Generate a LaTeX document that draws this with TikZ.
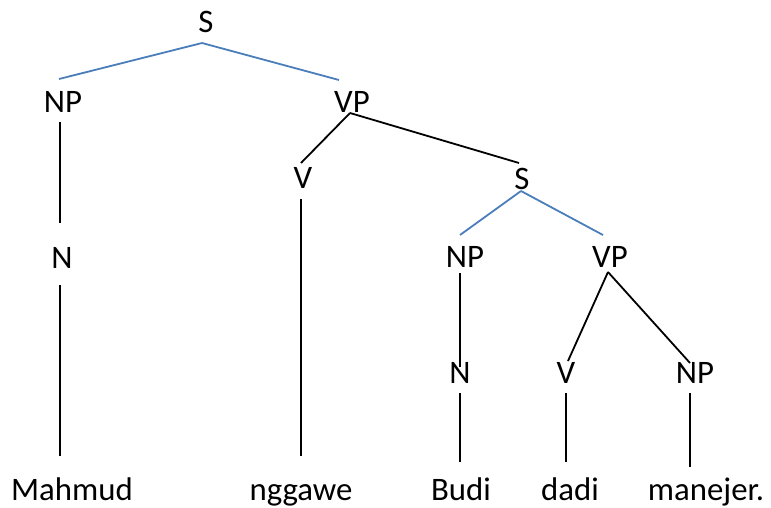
\documentclass[tikz,border=0pt]{standalone}
\usepackage{fontspec}
\setmainfont{Carlito}
\begin{document}
\begin{tikzpicture}[x=1pt,y=-1pt,
  lab/.style={anchor=base,inner sep=0pt,font=\fontsize{32.8}{39}\selectfont},
  blueedge/.style={draw=edgeblue,line width=1.8pt},
  blackedge/.style={draw=black,line width=1.8pt}]
\definecolor{edgeblue}{HTML}{4A7EBB}
\useasboundingbox (0,0) rectangle (771,507);
\node[lab] (S1) at (206,32) {S};
\node[lab] (NP1) at (63,112) {NP};
\node[lab] (VP1) at (352,112) {VP};
\node[lab] (V1) at (303,188) {V};
\node[lab] (N1) at (62,268) {N};
\node[lab] (S2) at (522,189) {S};
\node[lab] (NP2) at (465,267) {NP};
\node[lab] (VP2) at (610,267) {VP};
\node[lab] (N2) at (460,383) {N};
\node[lab] (V2) at (566,383) {V};
\node[lab] (NP3) at (695,383) {NP};
\node[lab] (w1) at (72,500) {Mahmud};
\node[lab] (w2) at (301,500) {nggawe};
\node[lab] (w3) at (461,500) {Budi};
\node[lab] (w4) at (570,500) {dadi};
\node[lab] (w5) at (706,500) {manejer.};
% blue edges
\draw[blueedge] ([shift={(-4,11)}]S1.base) -- ([shift={(-4,-33)}]NP1.base);
\draw[blueedge] ([shift={(-4,11)}]S1.base) -- ([shift={(-13,-32)}]VP1.base);
\draw[blueedge] ([shift={(-1,2)}]S2.base) -- ([shift={(-5,-32)}]NP2.base);
\draw[blueedge] ([shift={(-1,2)}]S2.base) -- ([shift={(-7,-32)}]VP2.base);
% black edges
\draw[blackedge] ([shift={(-3,10)}]NP1.base) -- ([shift={(-2,-45)}]N1.base);
\draw[blackedge] ([shift={(-2,17)}]N1.base) -- ([shift={(-12,-44)}]w1.base);
\draw[blackedge] ([shift={(-2,1)}]VP1.base) -- ([shift={(-2,-25)}]V1.base);
\draw[blackedge] ([shift={(-2,1)}]VP1.base) -- ([shift={(-3,-26)}]S2.base);
\draw[blackedge] ([shift={(-2,11)}]V1.base) -- ([shift={(0,-44)}]w2.base);
\draw[blackedge] ([shift={(-5,6)}]NP2.base) -- ([shift={(0,-16)}]N2.base);
\draw[blackedge] ([shift={(0,10)}]N2.base) -- ([shift={(-1,-38)}]w3.base);
\draw[blackedge] ([shift={(-2,5)}]VP2.base) -- ([shift={(2,-22)}]V2.base);
\draw[blackedge] ([shift={(-2,5)}]VP2.base) -- ([shift={(-5,-20)}]NP3.base);
\draw[blackedge] ([shift={(0,10)}]V2.base) -- ([shift={(-4,-38)}]w4.base);
\draw[blackedge] ([shift={(-5,10)}]NP3.base) -- ([shift={(-16,-33)}]w5.base);
\end{tikzpicture}
\end{document}
